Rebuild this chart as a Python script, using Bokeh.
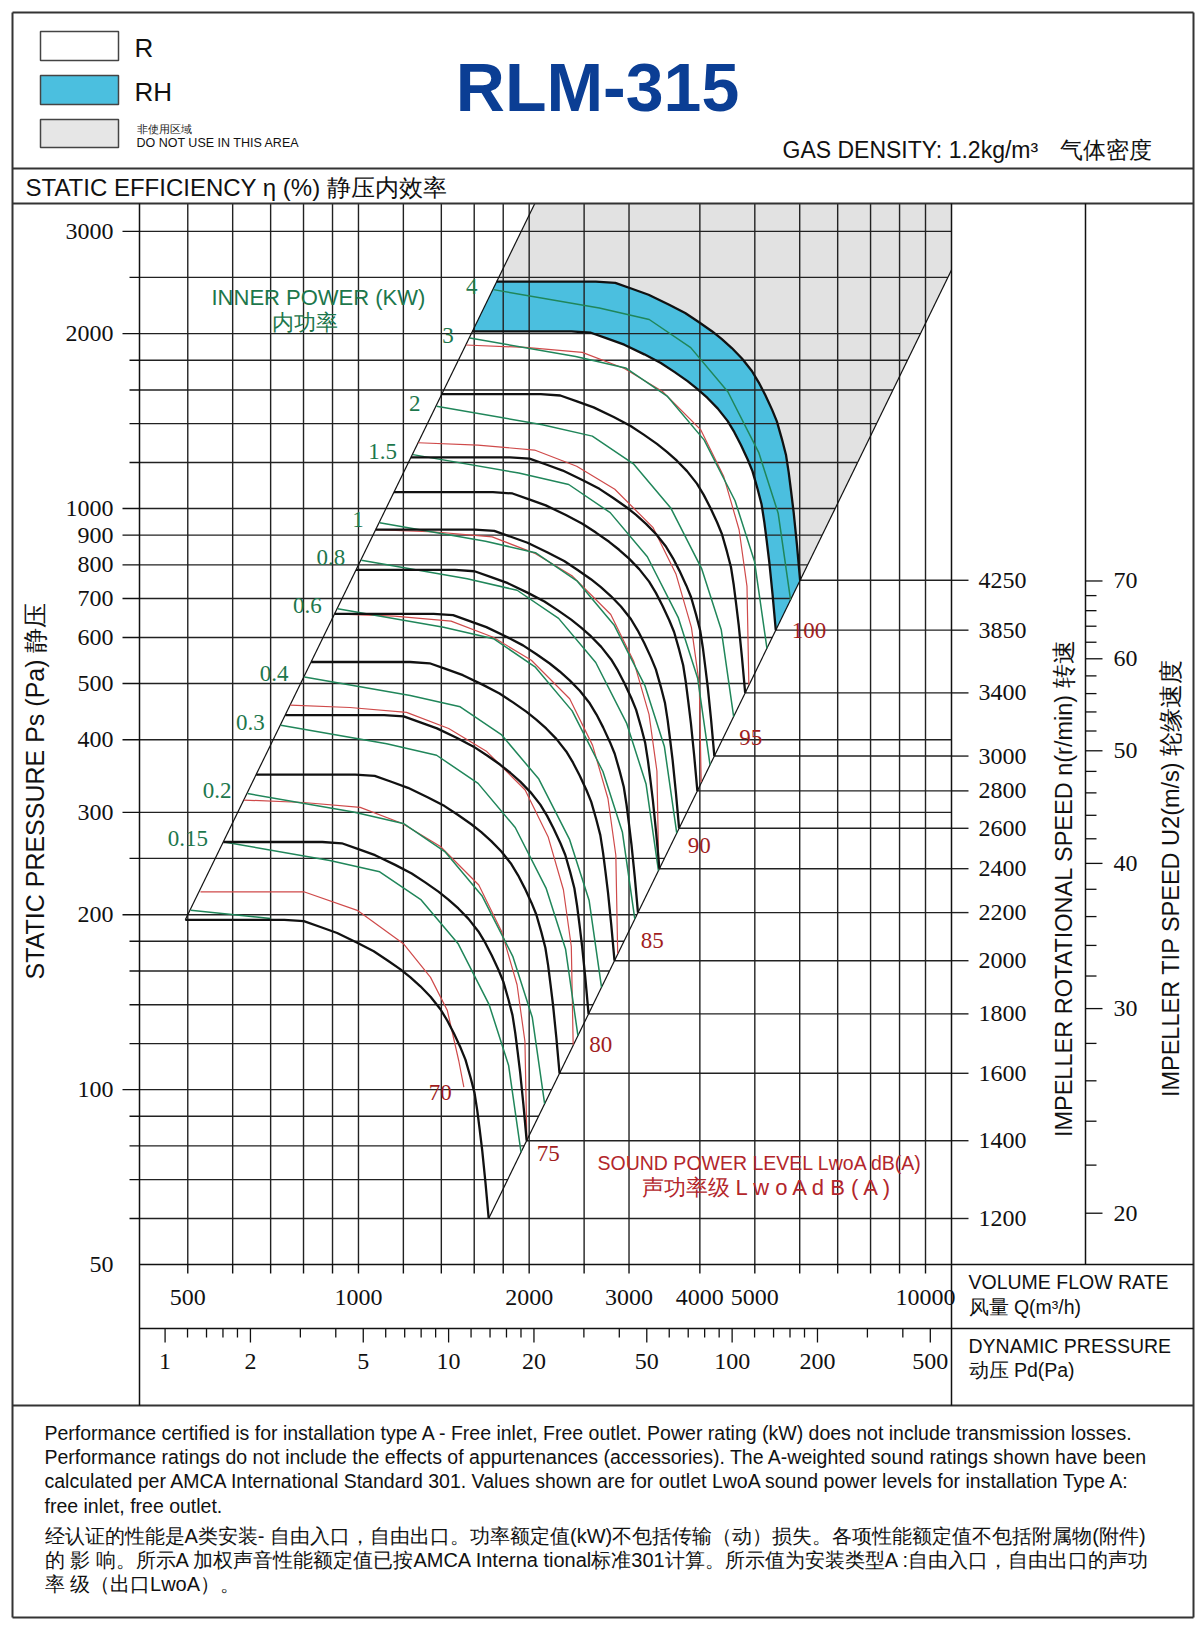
import math
from bokeh.plotting import figure
from bokeh.models import Range1d, LogScale, LinearScale, ColumnDataSource
from bokeh.embed import file_html
from bokeh.resources import INLINE
from bokeh.core.properties import value

# ---------------- values ----------------
MODEL = "RLM-315"
IMPELLER_D = 0.315          # m, used for the tip-speed scale
PD_Q_AT_1PA = 456           # m3/h at which the dynamic pressure scale reads 1 Pa

SPEEDS = [1200, 1400, 1600, 1800, 2000, 2200, 2400, 2600, 2800, 3000, 3400, 3850, 4250]
BASE_SPEED = 1200
BASE_Q = [495, 740, 801, 857, 917, 995, 1064, 1124, 1186, 1235, 1286, 1340, 1395, 1434, 1473,
          1514, 1544, 1576, 1602, 1620, 1636, 1653, 1675, 1697]
BASE_PS = [196, 196, 195, 190.5, 186, 179, 173, 167, 161, 156, 150.6, 144.5, 137.5, 131.5, 125,
           118, 112.6, 105, 98.7, 92, 85.3, 78.5, 69.1, 60]

POWER_KW = [0.15, 0.2, 0.3, 0.4, 0.6, 0.8, 1, 1.5, 2, 3, 4]
POWER_TXT = ["0.15", "0.2", "0.3", "0.4", "0.6", "0.8", "1", "1.5", "2", "3", "4"]
GREEN_BASE_KW = 0.15
GREEN_Q = [579, 890, 1090, 1290, 1500, 1700, 1840, 1935]
GREEN_PS = [266.8, 248, 237, 212, 178, 140, 110, 78]
STUB_Q = [506, 700]
STUB_PS = [203.6, 197]

SOUND_DB = [70, 75, 80, 85, 90, 95, 100]
SOUND_START_PS = [219, 315, 459, 659, 920, 1298, 1912]
RED_Q = [628, 800, 1007, 1195, 1395, 1630, 1789, 1904, 1966, 1981]
RED_PS = [315, 312, 306, 287, 262, 225, 187, 151.5, 121, 82]
RED70_Q = [526.5, 801, 995, 1202, 1340, 1434, 1503, 1534]
RED70_PS = [219, 219, 203.5, 178, 156, 137, 112, 101]

Q_MAJOR = [500, 1000, 2000, 3000, 4000, 5000, 10000]
Q_MINOR = [600, 700, 800, 900, 1200, 1400, 1600, 1800, 2500, 6000, 7000, 8000, 9000]
PS_MAJOR = [50, 100, 200, 300, 400, 500, 600, 700, 800, 900, 1000, 2000, 3000]
PS_MINOR = [60, 70, 80, 90, 120, 140, 160, 180, 250, 1200, 1400, 1600, 1800, 2500]
PS_THROUGH = [300, 400]
TIP_MAJOR = [20, 30, 40, 50, 60, 70]
TIP_MINOR = [22, 24, 26, 28, 32, 34, 36, 38, 42, 44, 46, 48, 52, 54, 56, 58, 62, 64, 66, 68]
PD_MAJOR = [1, 2, 5, 10, 20, 50, 100, 200, 500]
PD_MINOR = [1.2, 1.4, 1.6, 1.8, 3, 4, 6, 7, 8, 9, 12, 14, 16, 18, 30, 40, 60, 70, 80, 90,
            120, 140, 160, 180, 300, 400]

Q_RANGE = (411, 11113)
PS_RANGE = (50, 3350)

EN_NOTES = [
    "Performance certified is for installation type A - Free inlet, Free outlet. Power rating (kW) does not include transmission losses.",
    "Performance ratings do not include the effects of appurtenances (accessories). The A-weighted sound ratings shown have been",
    "calculated per AMCA International Standard 301. Values shown are for outlet LwoA sound power levels for installation Type A:",
    "free inlet, free outlet.",
]
CN_NOTES = [
    "经认证的性能是A类安装- 自由入口，自由出口。功率额定值(kW)不包括传输（动）损失。各项性能额定值不包括附属物(附件)",
    "的 影 响。所示A 加权声音性能额定值已按AMCA Interna tional标准301计算。所示值为安装类型A :自由入口，自由出口的声功",
    "率 级（出口LwoA）。",
]

# ---------------- styles / page layout ----------------
SANS = "Liberation Sans"
SERIF = "Liberation Serif"
GRID_C = "#222222"
BLACK_C = "#111111"
GREEN_C = "#20865a"
GREEN_T = "#1d774c"
RED_C = "#cf4a4a"
RED_T = "#a11d1d"
BLUE_C = "#4bbfdf"
GRAY_C = "#e2e2e2"
BORDER_C = "#333333"

W, H = 1200, 1630
A_L, A_R, A_T, A_B = 139, 951, 203, 1264      # plot area on the page


def fan_scale(qs, ps, k):
    return [q * k for q in qs], [v * k * k for v in ps]


Q0, Q1 = Q_RANGE
P0, P1 = PS_RANGE
dec_x = (A_R - A_L) / math.log10(Q1 / Q0)
dec_y = (A_B - A_T) / math.log10(P1 / P0)
qc0 = Q0 * 10 ** (-A_L / dec_x)
qc1 = Q0 * 10 ** ((W - A_L) / dec_x)
pc0 = P0 * 10 ** (-(H - A_B) / dec_y)
pc1 = P0 * 10 ** (A_B / dec_y)


def n_of_ps(ps):
    return BASE_SPEED * math.sqrt(ps / BASE_PS[-1])


u_per_n = math.pi * IMPELLER_D / 60.0

p = figure(width=W, height=H, x_axis_type="log", y_axis_type="log",
           x_range=Range1d(qc0, qc1), y_range=Range1d(pc0, pc1),
           x_axis_location=None, y_axis_location=None, toolbar_location=None,
           output_backend="svg", min_border=0, outline_line_color=None,
           background_fill_color="white", border_fill_color="white")
p.grid.visible = False
p.extra_x_ranges = {"px": Range1d(0, W),
                    "pd": Range1d((qc0 / PD_Q_AT_1PA) ** 2, (qc1 / PD_Q_AT_1PA) ** 2)}
p.extra_x_scales = {"px": LinearScale(), "pd": LogScale()}
p.extra_y_ranges = {"px": Range1d(H, 0),
                    "rpm": Range1d(n_of_ps(pc0), n_of_ps(pc1)),
                    "tip": Range1d(n_of_ps(pc0) * u_per_n, n_of_ps(pc1) * u_per_n)}
p.extra_y_scales = {"px": LinearScale(), "rpm": LogScale(), "tip": LogScale()}

PX = dict(x_range_name="px", y_range_name="px")
XPX = dict(x_range_name="px")
YPX = dict(y_range_name="px")

# ====================== chart area ======================
kh = SPEEDS[-1] / BASE_SPEED
kl = SPEEDS[-2] / BASE_SPEED
qa, pa = fan_scale(BASE_Q, BASE_PS, kh)
qb, pb = fan_scale(BASE_Q, BASE_PS, kl)
kt = math.sqrt(P1 / BASE_PS[0])
kr = Q1 / BASE_Q[-1]
p.patch([BASE_Q[0] * kt, Q1, Q1] + qa[::-1], [P1, P1, BASE_PS[-1] * kr * kr] + pa[::-1],
        fill_color=GRAY_C, line_color=None)
p.patch(qa + qb[::-1], pa + pb[::-1], fill_color=BLUE_C, line_color=None)

q_grid = sorted(Q_MAJOR + Q_MINOR)
p.segment(x0=q_grid, y0=[P0] * len(q_grid), x1=q_grid, y1=[P1] * len(q_grid),
          line_color=GRID_C, line_width=1.4)
ps_grid = [v for v in sorted(PS_MAJOR + PS_MINOR) if v > P0]
ends = [Q1 if v in PS_THROUGH else min(Q1, BASE_Q[-1] * math.sqrt(v / BASE_PS[-1]))
        for v in ps_grid]
p.segment(x0=[Q0] * len(ps_grid), y0=ps_grid, x1=ends, y1=ps_grid,
          line_color=GRID_C, line_width=1.4)

rq = [BASE_Q[-1] * n / BASE_SPEED for n in SPEEDS]
rp = [BASE_PS[-1] * (n / BASE_SPEED) ** 2 for n in SPEEDS]
p.segment(x0=rq, y0=rp, x1=[Q1] * len(rq), y1=rp, line_color=GRID_C, line_width=1.4)

p.segment(x0=[BASE_Q[0], BASE_Q[-1]], y0=[BASE_PS[0], BASE_PS[-1]],
          x1=[BASE_Q[0] * kt, Q1], y1=[P1, BASE_PS[-1] * kr * kr],
          line_color=BLACK_C, line_width=1.2)

# sound power lines
red_xs, red_ys, red_eq, red_ep = [RED70_Q], [RED70_PS], [RED70_Q[-1]], [RED70_PS[-1]]
for s in SOUND_START_PS[1:]:
    xq, yp = fan_scale(RED_Q, RED_PS, math.sqrt(s / RED_PS[0]))
    red_xs.append(xq)
    red_ys.append(yp)
    red_eq.append(xq[-1])
    red_ep.append(yp[-1])
p.multi_line(red_xs, red_ys, line_color=RED_C, line_width=1.2, line_join="round")

# power lines
g_xs, g_ys, g_q0, g_p0 = [STUB_Q], [STUB_PS], [], []
for kw in POWER_KW:
    xq, yp = fan_scale(GREEN_Q, GREEN_PS, (kw / GREEN_BASE_KW) ** (1.0 / 3.0))
    g_xs.append(xq)
    g_ys.append(yp)
    g_q0.append(xq[0])
    g_p0.append(yp[0])
p.multi_line(g_xs, g_ys, line_color=GREEN_C, line_width=1.5, line_join="round")

# fan curves
b_xs, b_ys = [], []
for n in SPEEDS:
    xq, yp = fan_scale(BASE_Q, BASE_PS, n / BASE_SPEED)
    b_xs.append(xq)
    b_ys.append(yp)
p.multi_line(b_xs, b_ys, line_color=BLACK_C, line_width=2.3, line_join="round")

# curve labels
p.text(x=g_q0, y=g_p0, text=POWER_TXT, x_offset=-16, y_offset=-3, text_align="right",
       text_baseline="middle", text_font=value(SERIF), text_font_size="23px", text_color=GREEN_T)
red_src = ColumnDataSource(dict(
    x=red_eq, y=red_ep, t=[str(v) for v in SOUND_DB],
    dx=[-12, 10, 16, 23, 29, 38, 43], dy=[5, 14, 0, -13, -24, -45, -54],
    al=["right", "left", "left", "left", "left", "left", "left"]))
p.text(x="x", y="y", text="t", x_offset="dx", y_offset="dy", text_align="al", source=red_src,
       text_baseline="middle", text_font=value(SERIF), text_font_size="23px", text_color=RED_T)
p.text(x=[850], y=[2307], text=["INNER POWER (KW)"], text_align="center", text_baseline="middle",
       text_font=value(SANS), text_font_size="22px", text_color=GREEN_T)
p.text(x=[806], y=[2090], text=["内功率"], text_align="center", text_baseline="middle",
       text_font=value(SANS), text_font_size="22px", text_color=GREEN_T)
p.text(x=[2640], y=[74.9], text=["SOUND POWER LEVEL LwoA dB(A)"], text_align="left",
       text_baseline="middle", text_font=value(SANS), text_font_size="19.5px", text_color="#b3262b")
p.text(x=[3156], y=[67.8], text=["声功率级   L w o A d B ( A )"], text_align="left",
       text_baseline="middle", text_font=value(SANS), text_font_size="22px", text_color="#b3262b")

# ====================== scales (ticks and tick labels) ======================
TL = dict(text_font=value(SERIF), text_font_size="24px", text_color="#111111",
          text_baseline="middle")
# static pressure
ps_ticks_major = [v for v in PS_MAJOR if v > P0]
p.segment(x0=[A_L - 17] * len(ps_ticks_major), y0=ps_ticks_major, x1=[A_L] * len(ps_ticks_major),
          y1=ps_ticks_major, line_color=BLACK_C, line_width=1.4, **XPX)
p.segment(x0=[A_L - 10] * len(PS_MINOR), y0=PS_MINOR, x1=[A_L] * len(PS_MINOR), y1=PS_MINOR,
          line_color=BLACK_C, line_width=1.4, **XPX)
p.text(x=[A_L - 26] * len(PS_MAJOR), y=PS_MAJOR, text=[str(v) for v in PS_MAJOR],
       text_align="right", **TL, **XPX)
# volume flow
p.segment(x0=q_grid, y0=[A_B] * len(q_grid), x1=q_grid, y1=[A_B + 9] * len(q_grid),
          line_color=BLACK_C, line_width=1.4, **YPX)
p.text(x=Q_MAJOR, y=[1297] * len(Q_MAJOR), text=[str(v) for v in Q_MAJOR], text_align="center",
       **TL, **YPX)
# dynamic pressure
PD = dict(x_range_name="pd", y_range_name="px")
p.segment(x0=PD_MAJOR, y0=[1328] * len(PD_MAJOR), x1=PD_MAJOR, y1=[1342] * len(PD_MAJOR),
          line_color=BLACK_C, line_width=1.3, **PD)
p.segment(x0=PD_MINOR, y0=[1328] * len(PD_MINOR), x1=PD_MINOR, y1=[1337] * len(PD_MINOR),
          line_color=BLACK_C, line_width=1.3, **PD)
p.text(x=PD_MAJOR, y=[1361] * len(PD_MAJOR), text=[str(v) for v in PD_MAJOR],
       text_align="center", **TL, **PD)
# rotational speed
RPM = dict(x_range_name="px", y_range_name="rpm")
p.segment(x0=[A_R] * len(SPEEDS), y0=SPEEDS, x1=[A_R + 17] * len(SPEEDS), y1=SPEEDS,
          line_color=GRID_C, line_width=1.4, **RPM)
p.text(x=[A_R + 27] * len(SPEEDS), y=SPEEDS, text=[str(v) for v in SPEEDS], text_align="left",
       **TL, **RPM)
# tip speed
TIP = dict(x_range_name="px", y_range_name="tip")
p.segment(x0=[1085] * len(TIP_MAJOR), y0=TIP_MAJOR, x1=[1102] * len(TIP_MAJOR), y1=TIP_MAJOR,
          line_color=BLACK_C, line_width=1.3, **TIP)
p.segment(x0=[1085] * len(TIP_MINOR), y0=TIP_MINOR, x1=[1096] * len(TIP_MINOR), y1=TIP_MINOR,
          line_color=BLACK_C, line_width=1.3, **TIP)
p.text(x=[1113] * len(TIP_MAJOR), y=TIP_MAJOR, text=[str(v) for v in TIP_MAJOR],
       text_align="left", **TL, **TIP)

# ====================== page frame, header, footer (page pixels) ======================
p.segment(x0=[12, 12, 12, 12, 12, 12, 1193],
          y0=[12, 168, 203, 1405, 1617, 12, 12],
          x1=[1193, 1193, 1193, 1193, 1193, 12, 1193],
          y1=[12, 168, 203, 1405, 1617, 1617, 1617],
          line_color=BORDER_C, line_width=2, **PX)
p.segment(x0=[A_L, A_R, 1085, A_L, A_L], y0=[A_T, A_T, A_T, A_B, 1328],
          x1=[A_L, A_R, 1085, 1193, 1193], y1=[1405, 1405, A_B, A_B, 1328],
          line_color=BLACK_C, line_width=1.5, **PX)

p.quad(left=[40, 40, 40], right=[118, 118, 118], top=[31, 75, 119], bottom=[60, 104, 147],
       fill_color=["white", BLUE_C, "#e6e6e6"], line_color="#444444", line_width=1.5, **PX)
p.text(x=[134, 134], y=[47, 91], text=["R", "RH"], text_font=value(SANS),
       text_font_size="26px", text_baseline="middle", text_align="left", text_color="#111111", **PX)
p.text(x=[136], y=[128], text=["非使用区域"], text_font=value(SANS), text_font_size="11px",
       text_baseline="middle", text_color="#222222", **PX)
p.text(x=[136], y=[142], text=["DO NOT USE IN THIS AREA"], text_font=value(SANS),
       text_font_size="12.5px", text_baseline="middle", text_color="#111111", **PX)
p.text(x=[597], y=[86], text=[MODEL], text_font=value(SANS), text_font_size="68px",
       text_font_style="bold", text_align="center", text_baseline="middle", text_color="#0b3e94",
       **PX)
p.text(x=[782], y=[149], text=["GAS DENSITY: 1.2kg/m³"], text_font=value(SANS),
       text_font_size="23px", text_baseline="middle", text_color="#111111", **PX)
p.text(x=[1059], y=[149], text=["气体密度"], text_font=value(SANS),
       text_font_size="23px", text_baseline="middle", text_color="#111111", **PX)
p.text(x=[25], y=[187], text=["STATIC EFFICIENCY η (%) 静压内效率"], text_font=value(SANS),
       text_font_size="24px", text_baseline="middle", text_color="#111111", **PX)

# axis titles
p.text(x=[34], y=[787], text=["STATIC PRESSURE Ps (Pa)  静压"], angle=math.pi / 2,
       text_align="center", text_baseline="middle", text_font=value(SANS),
       text_font_size="25px", text_color="#111111", **PX)
p.text(x=[1063], y=[878], text=["IMPELLER ROTATIONAL SPEED n(r/min)    转速"], angle=math.pi / 2,
       text_align="center", text_baseline="middle", text_font=value(SANS),
       text_font_size="23.5px", text_color="#111111", **PX)
p.text(x=[1170], y=[871], text=["IMPELLER TIP SPEED U2(m/s)   轮缘速度"], angle=math.pi / 2,
       text_align="center", text_baseline="middle", text_font=value(SANS),
       text_font_size="23.5px", text_color="#111111", **PX)
p.text(x=[968] * 4, y=[1281, 1306, 1345, 1369],
       text=["VOLUME FLOW RATE", "风量  Q(m³/h)", "DYNAMIC PRESSURE", "动压  Pd(Pa)"],
       text_align="left", text_baseline="middle", text_font=value(SANS),
       text_font_size="19.5px", text_color="#111111", **PX)

# notes
p.text(x=[44] * 4, y=[1432, 1456, 1480, 1505], text=EN_NOTES, text_font=value(SANS),
       text_font_size="19.5px", text_baseline="middle", text_color="#111111", **PX)
p.text(x=[44] * 3, y=[1535, 1559, 1583], text=CN_NOTES, text_font=value(SANS),
       text_font_size="20px", text_baseline="middle", text_color="#111111", **PX)

open("out.html", "w").write(file_html(p, INLINE))
